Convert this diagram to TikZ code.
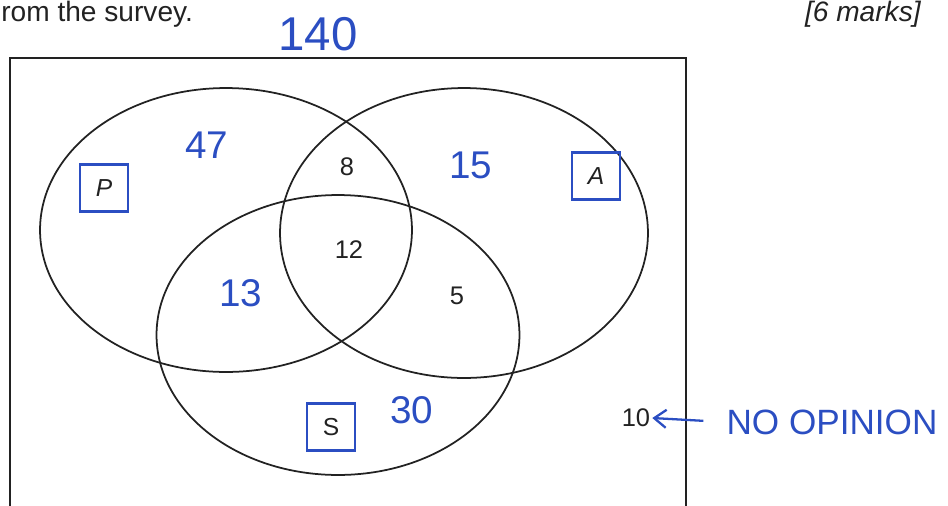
\documentclass[tikz,border=0pt]{standalone}
\usepackage{fontspec}
\setmainfont{Liberation Sans}
\usetikzlibrary{arrows.meta,positioning}
\definecolor{ink}{HTML}{2B4EC2}
\definecolor{pen}{HTML}{222222}

\begin{document}
\begin{tikzpicture}[
    x=0.02cm, y=-0.02cm,
    setline/.style={draw=pen, line width=1pt},
    count/.style={font=\fontsize{14.5}{16}\selectfont, text=pen, inner sep=1pt},
    hand/.style={font=\fontsize{22}{24}\selectfont, text=ink, inner sep=1pt},
    setlabel/.style={
      draw=ink,
      line width=1.4pt,
      minimum width=0.96cm,
      minimum height=0.94cm,
      font=\fontsize{14}{16}\selectfont,
      text=pen
    },
    arrow/.style={-{Straight Barb[length=2.4mm, width=3.6mm]}, line width=1.3pt, draw=ink}
  ]
    \useasboundingbox (0,0) rectangle (948,505);
    \clip (0,0) rectangle (948,505);

    % question text at the top
    \node[anchor=base west, font=\fontsize{16}{18}\selectfont, text=pen, inner sep=0pt]
      (question) at (1,21) {rom the survey.};
    \node[anchor=base east, font=\itshape\fontsize{16}{18}\selectfont, text=pen, inner sep=0pt]
      (marks) at (921,21) {[6 marks]};
    \node[hand, font=\fontsize{27}{29}\selectfont] (total) at (318,34) {140};

    % universal set and the three sets
    \draw[setline] (10,58) rectangle (686,530);
    \draw[setline] (226,230) ellipse [x radius=3.72cm, y radius=2.84cm];
    \draw[setline] (464,233) ellipse [x radius=3.68cm, y radius=2.90cm];
    \draw[setline] (338,335) ellipse [x radius=3.63cm, y radius=2.80cm];

    \node[setlabel] (setP) at (104,188) {\itshape P};
    \node[setlabel] (setA) at (596,176) {\itshape A};
    \node[setlabel] (setS) at (331,427) {S};

    % printed counts
    \node[count] (pa) at (347,167) {8};
    \node[count] (pas) at (349,250) {12};
    \node[count] (as) at (457,296) {5};
    \node[count] (none) at (636,418) {10};

    % handwritten counts
    \node[hand] (onlyP) at (207,145) {47};
    \node[hand] (onlyA) at (471,165) {15};
    \node[hand] (ps) at (241,293) {13};
    \node[hand] (onlyS) at (412,410) {30};
    \node[hand, font=\fontsize{20}{22}\selectfont] (noop) at (832,422) {NO OPINION};

    \draw[arrow, shorten <=12pt] (noop.west) -- (none.east);
  \end{tikzpicture}
\end{document}
